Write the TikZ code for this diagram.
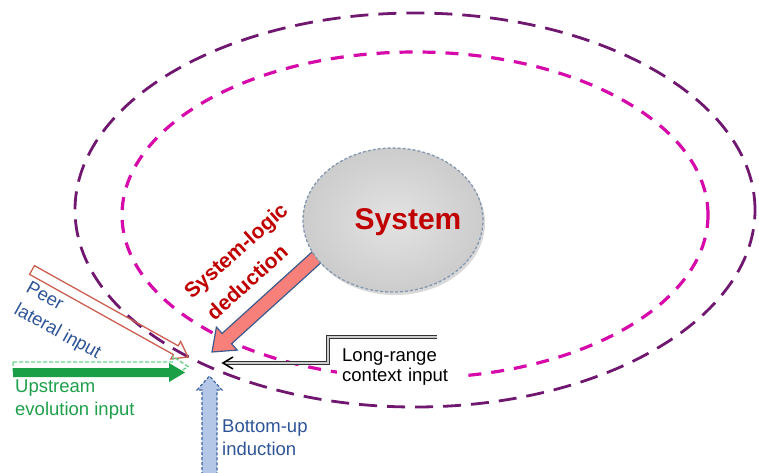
\documentclass[tikz,border=0pt]{standalone}
\usepackage{fontspec}
\setmainfont{Liberation Sans}
\usetikzlibrary{calc,shadows,shapes.geometric}

\definecolor{outerpurple}{RGB}{112,24,112}
\definecolor{innermag}{RGB}{214,10,170}
\definecolor{sysred}{RGB}{192,0,0}
\definecolor{sysfill}{RGB}{217,217,217}
\definecolor{sysborder}{RGB}{132,151,176}
\definecolor{salmonfill}{RGB}{248,128,122}
\definecolor{arrowblue}{RGB}{60,90,140}
\definecolor{peerred}{RGB}{205,95,80}
\definecolor{textblue}{RGB}{47,85,151}
\definecolor{greensolid}{RGB}{26,158,70}
\definecolor{greenlight}{RGB}{110,210,140}
\definecolor{greentext}{RGB}{30,160,75}
\definecolor{bufill}{RGB}{180,199,231}
\definecolor{buborder}{RGB}{65,100,160}

% #1 style, #2 tail, #3 tip, #4 half shaft, #5 half head, #6 head length
\newcommand\blockarrow[6]{%
  \coordinate (ba-hb) at ($(#3)!#6!(#2)$);
  \draw[#1] ($(#2)!#4!90:(#3)$) -- ($(ba-hb)!#4!90:(#3)$) -- ($(ba-hb)!#5!90:(#3)$)
    -- (#3) -- ($(ba-hb)!#5!-90:(#3)$) -- ($(ba-hb)!#4!-90:(#3)$) -- ($(#2)!#4!-90:(#3)$) -- cycle;
}

\tikzset{
  outerring/.style={draw=outerpurple, line width=2.8pt, dash pattern=on 18pt off 10pt},
  innerring/.style={draw=innermag, line width=3.2pt, dash pattern=on 13pt off 10pt},
  sysbox/.style={ellipse, draw=sysborder, line width=1.3pt, dash pattern=on 3pt off 2pt,
    inner color=black!11, outer color=black!20, minimum width=180pt, minimum height=144pt,
    drop shadow={opacity=0.3, shadow xshift=2pt, shadow yshift=-3pt}},
  deduct/.style={fill=salmonfill, draw=arrowblue, line width=1.2pt, line join=miter},
  peerarrow/.style={draw=peerred, line width=1.3pt, line join=miter},
  upoutline/.style={draw=greenlight, line width=1.4pt, dash pattern=on 4pt off 2pt},
  upsolid/.style={fill=greensolid, draw=none},
  buarrow/.style={fill=bufill, draw=buborder, line width=1.2pt, dash pattern=on 3pt off 2pt},
  longline/.style={draw=black!80, line width=0.9pt, double=black!20, double distance=2.2pt},
  lbl/.style={font=\fontsize{18.5}{22}\selectfont, inner sep=0pt, anchor=base west},
  sltxt/.style={font=\bfseries\fontsize{21}{25}\selectfont, text=sysred, rotate=42, inner sep=0pt},
}

\begin{document}
\begin{tikzpicture}[x=1pt,y=-1pt]
\useasboundingbox (0,0) rectangle (759,472);

% rings
\node[ellipse, outerring, minimum width=680pt, minimum height=394pt, inner sep=0pt] (outer) at (415,210) {};
\node[ellipse, innerring, minimum width=586pt, minimum height=326pt, inner sep=0pt] (inner) at (415,215) {};

% coordinates of arrows
\coordinate (ded-tail) at (329,246);
\coordinate (ded-tip) at (212,352);
\coordinate (peer-tail) at (32,270);
\coordinate (peer-tip) at (188,357);
\coordinate (upo-tail) at (13,366.5);
\coordinate (upo-tip) at (188,366.5);
\coordinate (ups-tail) at (13,372.5);
\coordinate (ups-tip) at (185,372.5);
\coordinate (bu-tail) at (209.5,480);
\coordinate (bu-tip) at (209.5,376);
\coordinate (lr-start) at (437,337);
\coordinate (lr-tip) at (223,363);

% system-logic deduction arrow
\blockarrow{deduct}{ded-tail}{ded-tip}{7pt}{15.5pt}{20pt}

% peer lateral input
\blockarrow{peerarrow}{peer-tail}{peer-tip}{5pt}{10pt}{14pt}

% upstream evolution input
\blockarrow{upoutline}{upo-tail}{upo-tip}{4.5pt}{10pt}{15pt}
\blockarrow{upsolid}{ups-tail}{ups-tip}{4.5pt}{9.5pt}{16pt}

% bottom-up induction
\blockarrow{buarrow}{bu-tail}{bu-tip}{7.5pt}{12.5pt}{14pt}

% long-range context input
\draw[longline] (lr-start) -- ++(-109,0) |- ($(lr-tip)+(1.5,0)$);
\draw[black, line width=1.6pt] ($(lr-tip)+(10,-6)$) -- (lr-tip) -- ($(lr-tip)+(10,6)$);

% system
\node[sysbox] (sys) at (393,220) {};
\node[font=\bfseries\fontsize{30}{36}\selectfont, text=sysred, anchor=base, inner sep=0pt] (systxt) at (408,229) {System};

% labels
\node[sltxt] (sl1) at (237,252) {System-logic};
\node[sltxt] (sl2) at (247,282) {deduction};

\node[lbl, text=textblue, rotate=-29] (peer1) at (25,291) {Peer};
\node[lbl, text=textblue, rotate=-29] (peer2) at (13,313) {lateral input};

\node[lbl, text=greentext] (up1) at (15,392) {Upstream};
\node[lbl, text=greentext] (up2) at (15,415) {evolution input};

\node[lbl, text=textblue] (bu1) at (222,432) {Bottom-up};
\node[lbl, text=textblue] (bu2) at (222,455) {induction};

\node[font=\fontsize{18.5}{20}\selectfont, fill=white, inner xsep=5pt, inner ysep=4pt,
      text width=112pt, align=left, anchor=north west] (lr) at (337,345)
      {Long-range\\context input};
\end{tikzpicture}
\end{document}
